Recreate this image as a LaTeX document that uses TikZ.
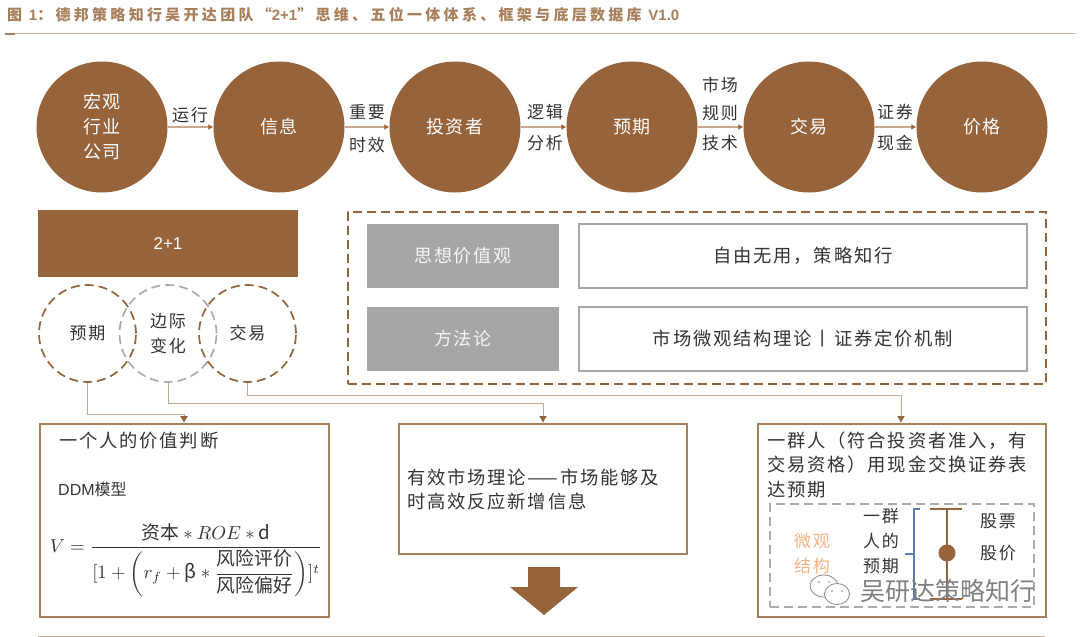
\documentclass[tikz,border=0pt]{standalone}
\usepackage{amsmath}
\usepackage{fontspec}
\usepackage{graphicx}
\setmainfont{Noto Sans CJK SC}[LetterSpace=10]
\newfontfamily\titlef{Noto Sans CJK SC}[LetterSpace=22]
\newfontfamily\latf{Liberation Sans}
\newfontfamily\plainf{Noto Sans CJK SC}
\usetikzlibrary{arrows.meta,calc}
\definecolor{brn}{HTML}{96633B}
\definecolor{lbrn}{HTML}{C9A88C}
\definecolor{tbrn}{HTML}{A87F5B}
\definecolor{ink}{HTML}{333333}
\definecolor{gbox}{HTML}{A6A6A6}
\definecolor{dgr}{HTML}{ABABAB}
\definecolor{peach}{HTML}{F4B183}
\definecolor{brk}{HTML}{5B7DB1}
\tikzset{
  x=1pt,y=-1pt,
  bigcirc/.style={circle,fill=brn,minimum size=131pt,inner sep=0pt,text=white,align=center,font=\fontsize{18}{25}\selectfont},
  lab/.style={text=ink,inner sep=0pt,align=center,font=\fontsize{17}{30}\selectfont},
  txt/.style={text=ink,inner sep=0pt,anchor=west,font=\fontsize{18.3}{24}\selectfont},
  flow/.style={draw=lbrn,line width=1.8pt,-{Latex[length=5pt,width=6pt,color=brn]}},
  wire/.style={draw=lbrn,line width=1pt,rounded corners=0pt,-{Latex[length=7pt,width=8pt,color=brn]}},
  dashbrn/.style={draw=brn,line width=1.7pt,dash pattern=on 9pt off 5pt},
  dashgr/.style={draw=dgr,line width=1.7pt,dash pattern=on 9pt off 5pt},
  smallcirc/.style={circle,minimum size=97pt,inner sep=0pt,text=ink,align=center,font=\fontsize{17}{25}\selectfont},
  greybox/.style={fill=gbox,minimum width=192pt,minimum height=64pt,inner sep=0pt,text=white!92!gray,font=\fontsize{18}{20}\selectfont},
  whitebox/.style={draw=gbox,line width=1.2pt,minimum width=448pt,minimum height=64pt,inner sep=0pt,text=ink,font=\fontsize{18.3}{20}\selectfont},
  panel/.style={draw=tbrn,line width=1.6pt,inner sep=0pt,anchor=north west},
  wm/.style={draw=dgr!80!black,fill=white,line width=.8pt}
}
\begin{document}
\begin{tikzpicture}
\useasboundingbox (0,0) rectangle (1080,637);
% title
\node[anchor=west,inner sep=0pt,text=tbrn,font=\fontsize{15}{17}\selectfont\titlef\bfseries] (title) at (7,15)
 {图 {\latf\bfseries 1}：德邦策略知行吴开达团队“{\latf\bfseries 2+1}”思维、五位一体体系、框架与底层数据库 {\latf\bfseries V1.0}};
\draw[draw=lbrn,line width=1pt] (5,33) -- (1075,33);
\draw[draw=tbrn,line width=1.5pt] (5,34) -- (15,34);
% top flow
\node[bigcirc] (c1) at (102,127) {宏观\\行业\\公司};
\node[bigcirc] (c2) at (279,127) {信息};
\node[bigcirc] (c3) at (455,127) {投资者};
\node[bigcirc] (c4) at (632,127) {预期};
\node[bigcirc] (c5) at (809,127) {交易};
\node[bigcirc] (c6) at (982,127) {价格};
\foreach \a/\b in {c1/c2,c2/c3,c3/c4,c4/c5,c5/c6}{\draw[flow] (\a) -- (\b);}
\node[lab] (l1) at (190,115) {运行};
\node[lab] (l2) at (367,112) {重要};
\node[lab] (l3) at (367,145) {时效};
\node[lab] (l4) at (545,112) {逻辑};
\node[lab] (l5) at (545,143) {分析};
\node[lab] (l6) at (720,85) {市场};
\node[lab] (l7) at (720,113) {规则};
\node[lab] (l8) at (720,143) {技术};
\node[lab] (l9) at (895,112) {证券};
\node[lab] (l10) at (895,143) {现金};
% 2+1
\node[fill=brn,minimum width=260pt,minimum height=67pt,inner sep=0pt,text=white,font=\fontsize{17}{20}\selectfont\latf] (two) at (168,243.5) {2+1};
\node[smallcirc,dashgr] (s2) at (168,333.5) {边际\\变化};
\node[smallcirc,dashbrn] (s1) at (87.5,333.5) {预期};
\node[smallcirc,dashbrn] (s3) at (247.5,333.5) {交易};
% dashed panel
\node[dashbrn,anchor=north west,minimum width=698pt,minimum height=172pt,inner sep=0pt] (dp) at (347,211) {};
\node[greybox] (g1) at (463,256) {思想价值观};
\node[greybox] (g2) at (463,339) {方法论};
\node[whitebox] (w1) at (803,256) {自由无用，策略知行};
\node[whitebox] (w2) at (803,339) {市场微观结构理论丨证券定价机制};
% lower panels
\node[panel,minimum width=289pt,minimum height=193pt] (p1) at (39,423) {};
\node[panel,minimum width=288pt,minimum height=130pt] (p2) at (398,423) {};
\node[panel,minimum width=288pt,minimum height=193pt] (p3) at (757,423) {};
% connectors
\coordinate (t1) at (184,423);
\coordinate (t2) at (543,423);
\coordinate (t3) at (901,423);
\draw[wire] (s1.south) -- (87.5,414) -- (184,414) -- (t1);
\draw[wire] (s2.south) -- (168,403) -- (543,403) -- (t2);
\draw[wire] (s3.south) -- (247.5,395) -- (901,395) -- (t3);
% panel 1
\node[txt] (a1) at (59,441) {一个人的价值判断};
\node[txt,font=\fontsize{16}{20}\selectfont\plainf] (a2) at (58,489) {{\latf DDM}模型};
\node[anchor=center,inner sep=0pt,text=ink,scale=1.88] (f) at (186,560) {$\displaystyle V=\frac{\text{\plainf 资本}*\mathnormal{ROE}*\mathrm{d}}{[1+\left(r_f+\text{\plainf β}*\dfrac{\text{\plainf 风险评价}}{\text{\plainf 风险偏好}}\right)]^t}$};
% panel 2
\node[txt] (b1) at (407,477) {有效市场理论——市场能够及};
\node[txt] (b2) at (407,502) {时高效反应新增信息};
% panel 3
\node[txt] (d1) at (767,441) {一群人（符合投资者准入，有};
\node[txt] (d2) at (767,465) {交易资格）用现金交换证券表};
\node[txt] (d3) at (767,490) {达预期};
\node[dashgr,anchor=north west,minimum width=264pt,minimum height=103pt,inner sep=0pt] (dg) at (769,503) {};
\node[lab,text=peach] (m1) at (812,541) {微观};
\node[lab,text=peach] (m2) at (812,566) {结构};
\node[lab] (n1) at (881,516) {一群};
\node[lab] (n2) at (881,541) {人的};
\node[lab] (n3) at (881,566) {预期};
\draw[draw=brk,line width=1.2pt] (920,509) -- (914,509) -- (914,599) -- (920,599);
\draw[draw=brk,line width=1.2pt] (905,554) -- (914,554);
\draw[draw=brn,line width=2.5pt] (930,509) -- (962,509);
\draw[draw=brn,line width=2.5pt] (947,509) -- (947,599);
\draw[draw=brn,line width=2.5pt] (930,599) -- (962,599);
\node[circle,fill=brn,minimum size=17pt,inner sep=0pt] (dot) at (947,553) {};
\node[lab] (q1) at (998,521) {股票};
\node[lab] (q2) at (998,553) {股价};
% block arrow
\fill[brn] (528,567) -- (560,567) -- (560,587) -- (578,587) -- (544,615) -- (510,587) -- (528,587) -- cycle;
% bottom rule
\draw[draw=lbrn,line width=1pt] (38,636) -- (1045,636);
% watermark
\draw[wm] (824,586) ellipse (14pt and 11pt);
\draw[wm] (837,594) ellipse (12.5pt and 10.5pt);
\fill[dgr] (819,582) circle (1.2pt) (829,582) circle (1.2pt) (832,591) circle (1.2pt) (842,591) circle (1.2pt);
\node[inner sep=0pt,text=gray,font=\fontsize{25}{28}\selectfont\plainf,anchor=west] (wmark) at (860,591) {吴研达策略知行};
\end{tikzpicture}
\end{document}
